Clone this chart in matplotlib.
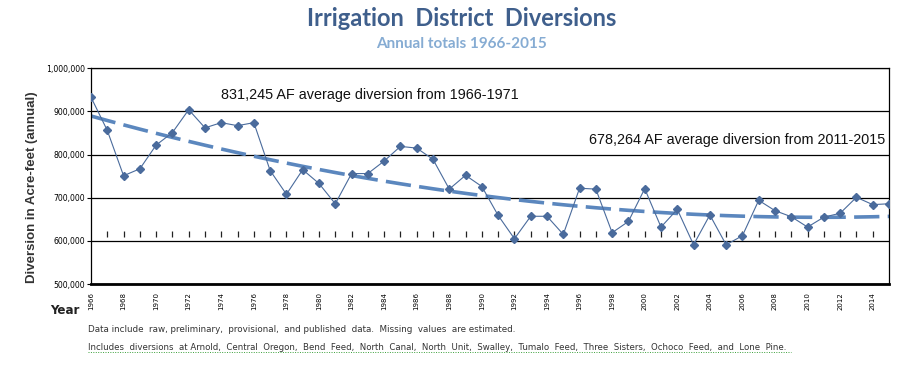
import numpy as np
import matplotlib
matplotlib.use("Agg")
import matplotlib.pyplot as plt
from matplotlib.ticker import FuncFormatter

# Annual diversions (acre-feet)
YEARS = list(range(1966, 2016))
DIVERSIONS = [
    933000, 856000, 751000, 767000, 822000, 851000, 904000, 862000, 874000, 867000,
    874000, 763000, 708000, 765000, 733000, 686000, 756000, 756000, 785000, 819000,
    815000, 789000, 720000, 752000, 726000, 659000, 605000, 657000, 657000, 615000,
    722000, 720000, 619000, 645000, 721000, 632000, 673000, 591000, 660000, 591000,
    612000, 694000, 670000, 656000, 632000, 655000, 664000, 701000, 684000, 686000,
]
# row of small vertical marks drawn across the plot
MARK_YEARS = list(range(1967, 2015))
MARK_LEVEL = 615000

Y_TICKS = [500000, 600000, 700000, 800000, 900000, 1000000]
X_TICKS = list(range(1966, 2015, 2))

NOTE_EARLY = "831,245 AF average diversion from 1966-1971"
NOTE_LATE = "678,264 AF average diversion from 2011-2015"
FOOT_1 = ("Data include  raw, preliminary,  provisional,  and published  data.  "
          "Missing  values  are estimated.")
FOOT_2 = ("Includes  diversions  at Arnold,  Central  Oregon,  Bend  Feed,  North  Canal,  "
          "North  Unit,  Swalley,  Tumalo  Feed,  Three  Sisters,  Ochoco  Feed,  and  Lone  Pine.")

LINE_COLOR = "#4a6b9c"
TREND_COLOR = "#5b87be"

fig = plt.figure(figsize=(9.2, 3.74), dpi=100)
ax = fig.add_axes([0.0989, 0.2406, 0.8674, 0.5768])

years = np.array(YEARS)
vals = np.array(DIVERSIONS)

# quadratic trend, like the spreadsheet's polynomial trendline
coef = np.polyfit(years - 1966, vals, 2)
fit = np.polyval(coef, years - 1966)
ax.plot(years, fit, color=TREND_COLOR, lw=2.6, dashes=(7, 2.3), zorder=2)

ax.plot(years, vals, color=LINE_COLOR, lw=0.8, marker="D", ms=4.3,
        markerfacecolor=LINE_COLOR, markeredgecolor=LINE_COLOR, zorder=3)
ax.plot(MARK_YEARS, [MARK_LEVEL] * len(MARK_YEARS), ls="none", marker="|",
        ms=4.5, mew=0.9, color="#222222", zorder=2)

ax.set_xlim(1966, 2015)
ax.set_ylim(500000, 1000000)
ax.set_yticks(Y_TICKS)
ax.yaxis.set_major_formatter(FuncFormatter(lambda v, p: f"{v:,.0f}"))
ax.set_xticks(X_TICKS)
ax.set_xticklabels([str(y) for y in X_TICKS], rotation=90, fontsize=5)
ax.tick_params(axis="x", length=0, pad=6)
ax.tick_params(axis="y", labelsize=5.6, length=3, width=0.8, pad=1)
ax.yaxis.grid(True, color="black", lw=0.9)
ax.set_axisbelow(True)
for s in ("left", "right", "top"):
    ax.spines[s].set_linewidth(0.9)
ax.spines["bottom"].set_linewidth(2.0)

ax.set_ylabel("Diversion in Acre-feet (annual)", fontsize=9.5, fontweight="bold",
              family="Liberation Sans", color="#333333")
ax.yaxis.set_label_coords(-0.066, 0.447)

ax.text(1983.1, 938000, NOTE_EARLY, ha="center", va="center", fontsize=10.4,
        family="Liberation Sans", color="#111111")
ax.text(2014.8, 833000, NOTE_LATE, ha="right", va="center", fontsize=10.4,
        family="Liberation Sans", color="#111111")

fig.text(0.502, 0.95, "Irrigation  District  Diversions", ha="center", va="center",
         fontsize=17, fontweight="bold", family="Lato", color="#3f5f8c")
fig.text(0.502, 0.882, "Annual totals 1966-2015", ha="center", va="center",
         fontsize=11, fontweight="bold", family="Lato", color="#86acd3")
fig.text(0.055, 0.171, "Year", ha="left", va="center", fontsize=8.6,
         fontweight="bold", family="DejaVu Sans", color="#222222")

fig.text(0.0957, 0.120, FOOT_1, ha="left", va="center", fontsize=6.3,
         family="DejaVu Sans", color="#333333")
fig.text(0.0957, 0.072, FOOT_2, ha="left", va="center", fontsize=6.2,
         family="DejaVu Sans", color="#333333")
fig.add_artist(plt.Line2D([0.0957, 0.86], [0.058, 0.058], transform=fig.transFigure,
                          color="#3aa03a", lw=0.7, ls=(0, (1, 1.5))))

fig.savefig("out.png", dpi=100)
